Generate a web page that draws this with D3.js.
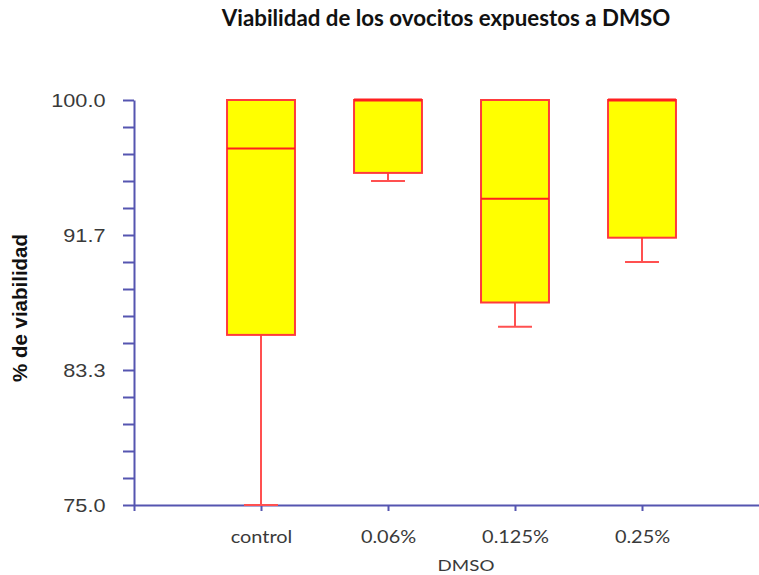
<!DOCTYPE html>
<html>
<head>
<meta charset="utf-8">
<script src="https://cdn.jsdelivr.net/npm/d3@7"></script>
<style>
  html, body { margin: 0; padding: 0; background: #fff; }
  svg { display: block; }
</style>
</head>
<body>
<svg id="chart" width="759" height="575"></svg>
<script>
// ---- data ----
const categories = ["control", "0.06%", "0.125%", "0.25%"];
const mins    = [75.0, 95.0, 86.0, 90.0];
const q1s     = [85.5, 95.5, 87.5, 91.5];
const medians = [97.0, 100.0, 93.9, 100.0];
const q3s     = [100.0, 100.0, 100.0, 100.0];
const maxs    = [100.0, 100.0, 100.0, 100.0];
const yTickLabels = ["75.0", "83.3", "91.7", "100.0"];

// ---- setup ----
const svg = d3.select("#chart");
const axisColor = "#5555b0";
const boxStroke = "#ff3b3b";

const x = d3.scaleLinear().domain([0, categories.length + 1]).range([134, 769]);
const y = d3.scaleLinear().domain([75, 100]).range([505, 100]);

const unit = x(1) - x(0);
const boxW = unit * 0.535;
const capW = boxW * 0.5;

// y ticks: 15 intervals, labels every 5th
const yTickVals = d3.range(16).map(i => 75 + i * 25 / 15);

const yAxis = d3.axisLeft(y)
  .tickValues(yTickVals)
  .tickSize(11)
  .tickSizeOuter(0)
  .tickPadding(12)
  .tickFormat((d, i) => i % 5 === 0 ? yTickLabels[i / 5] : "");

const gy = svg.append("g").attr("transform", `translate(${x(0)},0)`).call(yAxis);
gy.selectAll("path.domain, line").attr("stroke", axisColor).attr("stroke-width", 2);
gy.selectAll("text")
  .attr("font-family", "Liberation Sans, Arial, sans-serif")
  .attr("font-size", 17.5)
  .attr("fill", "#3a3a3a")
  .attr("dy", "0.36em")
  .attr("transform", "scale(1.24,1)");

const xTickVals = d3.range(categories.length + 1);
const xAxis = d3.axisBottom(x)
  .tickValues(xTickVals)
  .tickSize(6)
  .tickSizeOuter(0)
  .tickPadding(20)
  .tickFormat(i => i === 0 ? "" : categories[i - 1]);

const gx = svg.append("g").attr("transform", `translate(0,${y(75)})`).call(xAxis);
gx.selectAll("path.domain, line").attr("stroke", axisColor).attr("stroke-width", 2);
gx.selectAll("text")
  .attr("font-family", "Lato, sans-serif")
  .attr("font-size", 17)
  .attr("fill", "#3a3a3a")
  .attr("transform", "scale(1.17,1)");

// ---- boxes ----
const data = categories.map((c, i) => ({
  c, i, min: mins[i], q1: q1s[i], med: medians[i], q3: q3s[i], max: maxs[i]
}));

const g = svg.append("g");
data.forEach(d => {
  const cx = x(d.i + 1);
  // lower whisker
  g.append("line")
    .attr("x1", cx).attr("x2", cx)
    .attr("y1", y(d.q1)).attr("y2", y(d.min))
    .attr("stroke", "#ff5050").attr("stroke-width", 2);
  g.append("line")
    .attr("x1", cx - capW / 2).attr("x2", cx + capW / 2)
    .attr("y1", y(d.min)).attr("y2", y(d.min))
    .attr("stroke", "#ff5050").attr("stroke-width", 2);
  // upper whisker
  if (d.max > d.q3) {
    g.append("line")
      .attr("x1", cx).attr("x2", cx)
      .attr("y1", y(d.q3)).attr("y2", y(d.max))
      .attr("stroke", "#ff5050").attr("stroke-width", 2);
  }
  // box
  g.append("rect")
    .attr("x", cx - boxW / 2)
    .attr("y", y(d.q3))
    .attr("width", boxW)
    .attr("height", y(d.q1) - y(d.q3))
    .attr("fill", "#ffff00")
    .attr("stroke", boxStroke)
    .attr("stroke-width", 2);
  // median
  g.append("line")
    .attr("x1", cx - boxW / 2).attr("x2", cx + boxW / 2)
    .attr("y1", y(d.med)).attr("y2", y(d.med))
    .attr("stroke", "#ff2020").attr("stroke-width", d.med === d.q3 ? 3 : 2);
});

// ---- titles ----
svg.append("text")
  .attr("x", 446).attr("y", 26)
  .attr("text-anchor", "middle")
  .attr("font-family", "Lato, sans-serif")
  .attr("font-weight", "bold")
  .attr("font-size", 22.3)
  .attr("fill", "#111")
  .text("Viabilidad de los ovocitos expuestos a DMSO");

svg.append("text")
  .attr("transform", "translate(27,308) rotate(-90)")
  .attr("text-anchor", "middle")
  .attr("font-family", "Liberation Sans, Arial, sans-serif")
  .attr("font-weight", "bold")
  .attr("font-size", 20.5)
  .attr("fill", "#111")
  .text("% de viabilidad");

svg.append("text")
  .attr("transform", "translate(466,571) scale(1.25,1)")
  .attr("text-anchor", "middle")
  .attr("font-family", "Lato, sans-serif")
  .attr("font-size", 15)
  .attr("fill", "#3a3a3a")
  .text("DMSO");
</script>
</body>
</html>
